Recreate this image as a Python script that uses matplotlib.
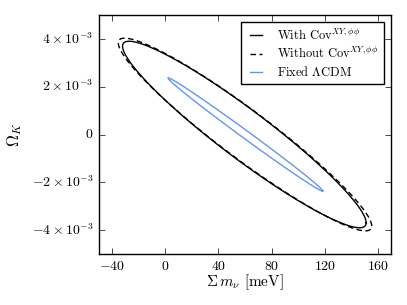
import numpy as np
import matplotlib
matplotlib.use('Agg')
import matplotlib.pyplot as plt

plt.style.use('classic')
plt.rcParams['font.family'] = 'serif'
plt.rcParams['font.serif'] = ['cmr10', 'DejaVu Serif']
plt.rcParams['mathtext.fontset'] = 'cm'
plt.rcParams['axes.unicode_minus'] = False

# ellipse parameters: centre, x/y half extents, correlation
labels = [r'With $\mathrm{Cov}^{XY,\phi\phi}$',
          r'Without $\mathrm{Cov}^{XY,\phi\phi}$',
          r'Fixed $\Lambda$CDM']
centre_x = [59.5, 60.0, 60.3]
centre_y = [0.0, 0.0, 0.0]
extent_x = [91.7, 95.4, 58.3]
extent_y = [3.90e-3, 4.03e-3, 2.37e-3]
corr = [-0.946, -0.950, -0.9964]
styles = ['-', (0, (4, 2.5)), '-']
colors = ['black', 'black', '#6495ED']

xticks = [-40, 0, 40, 80, 120, 160]
yticks = [-4e-3, -2e-3, 0, 2e-3, 4e-3]
ytick_labels = [r'$-4\times10^{-3}$', r'$-2\times10^{-3}$', r'$0$',
                r'$2\times10^{-3}$', r'$4\times10^{-3}$']

fig = plt.figure(figsize=(4.07, 3.05), dpi=100)
ax = fig.add_axes([0.243, 0.167, 0.718, 0.784])

t = np.linspace(0, 2 * np.pi, 400)
for i in range(len(labels)):
    r = corr[i]
    x = centre_x[i] + extent_x[i] * np.cos(t)
    y = centre_y[i] + extent_y[i] * (r * np.cos(t) + np.sqrt(1 - r**2) * np.sin(t))
    ax.plot(x, y, ls=styles[i], color=colors[i], lw=1.0, label=labels[i])

ax.set_xlim(-50, 170)
ax.set_ylim(-5e-3, 5e-3)
ax.set_xticks(xticks)
ax.set_xticklabels([r'$%d$' % v for v in xticks])
ax.set_yticks(yticks)
ax.set_yticklabels(ytick_labels)
ax.tick_params(labelsize=10, length=4)

ax.set_xlabel(r'$\Sigma\, m_\nu$ [meV]', fontsize=11)
ax.set_ylabel(r'$\Omega_K$', fontsize=12)
ax.xaxis.set_label_coords(0.5, -0.075)
ax.yaxis.set_label_coords(-0.255, 0.5)

leg = ax.legend(loc='upper right', fontsize=9, frameon=True, borderaxespad=0.6,
                handlelength=1.6, labelspacing=0.3, borderpad=0.4, handletextpad=0.9)
leg.get_frame().set_edgecolor('black')

fig.savefig('out.png', dpi=100)
